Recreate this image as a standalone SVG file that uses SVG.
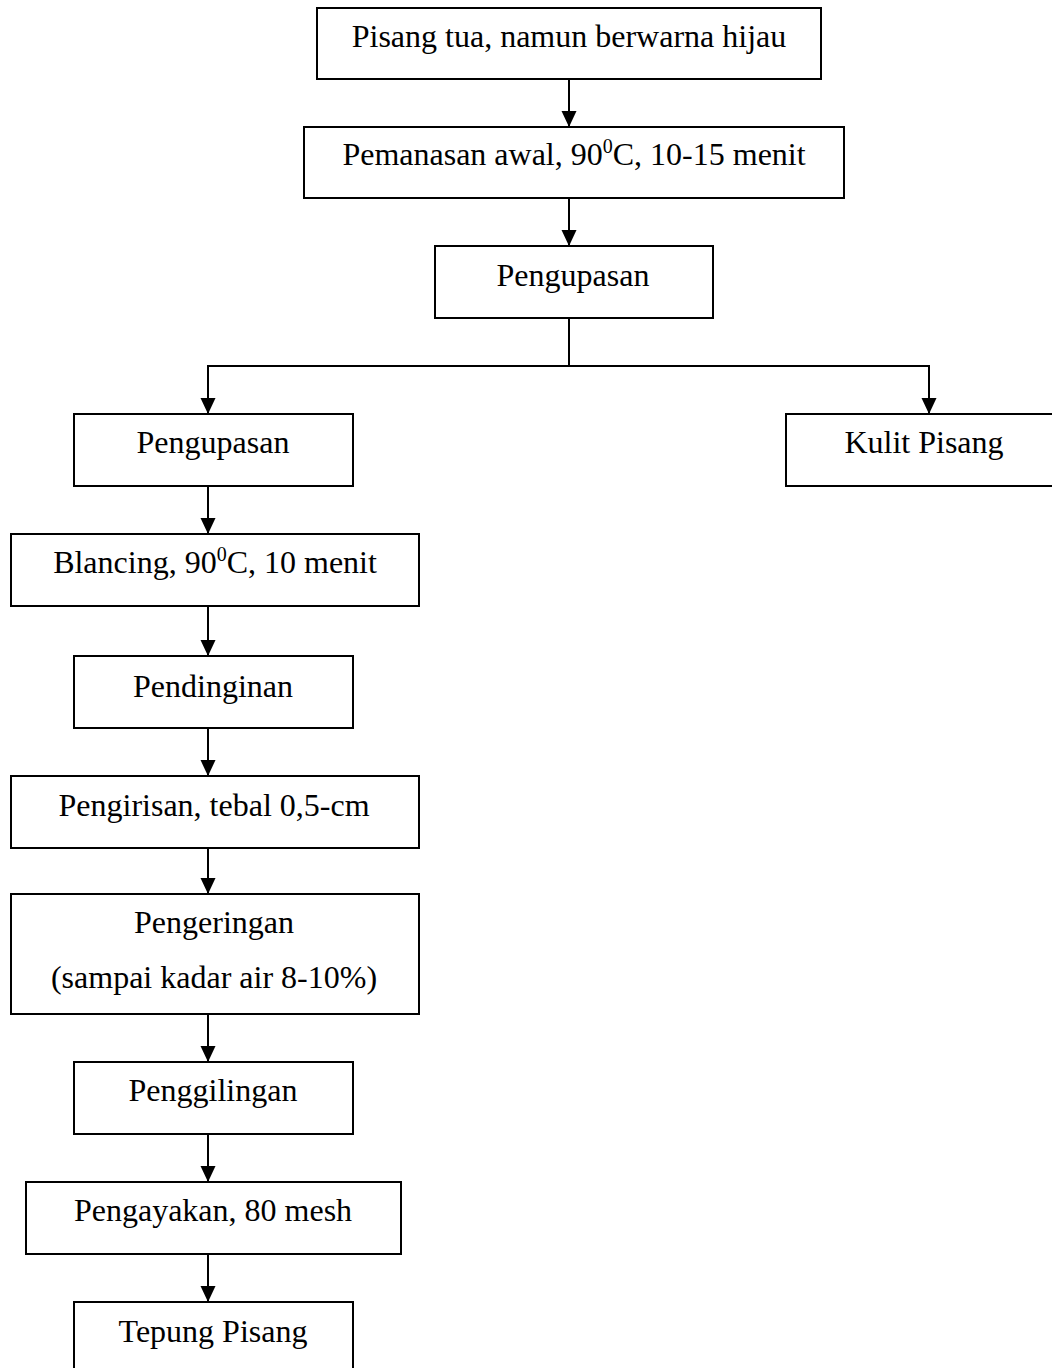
<svg xmlns="http://www.w3.org/2000/svg" width="1052" height="1368" viewBox="0 0 1052 1368">
<style>
.box{fill:#fff;stroke:#000;stroke-width:2}
.lbl{font-family:"Liberation Serif","Times New Roman",serif;font-size:32px;fill:#000;text-anchor:middle}
.sup{font-size:20px}
.con{fill:none;stroke:#000;stroke-width:2}
</style>
<defs>
<marker id="ah" viewBox="0 0 16 16" refX="16" refY="8" markerWidth="16" markerHeight="16" orient="auto" markerUnits="userSpaceOnUse">
<path d="M0,0.5 L16,8 L0,15.5 z" fill="#000"/>
</marker>
</defs>
<rect width="1052" height="1368" fill="#fff"/>
<g id="connectors">
<line class="con" x1="569" y1="79" x2="569" y2="127" marker-end="url(#ah)"/>
<line class="con" x1="569" y1="198" x2="569" y2="246" marker-end="url(#ah)"/>
<line class="con" x1="569" y1="318" x2="569" y2="366"/>
<line class="con" x1="207" y1="366" x2="930" y2="366"/>
<line class="con" x1="208" y1="366" x2="208" y2="414" marker-end="url(#ah)"/>
<line class="con" x1="929" y1="366" x2="929" y2="414" marker-end="url(#ah)"/>
<line class="con" x1="208" y1="486" x2="208" y2="534" marker-end="url(#ah)"/>
<line class="con" x1="208" y1="606" x2="208" y2="656" marker-end="url(#ah)"/>
<line class="con" x1="208" y1="728" x2="208" y2="776" marker-end="url(#ah)"/>
<line class="con" x1="208" y1="848" x2="208" y2="894" marker-end="url(#ah)"/>
<line class="con" x1="208" y1="1014" x2="208" y2="1062" marker-end="url(#ah)"/>
<line class="con" x1="208" y1="1134" x2="208" y2="1182" marker-end="url(#ah)"/>
<line class="con" x1="208" y1="1254" x2="208" y2="1302" marker-end="url(#ah)"/>
</g>
<g id="n1"><rect class="box" x="317" y="8" width="504" height="71"/><text class="lbl" x="569" y="47">Pisang tua, namun berwarna hijau</text></g>
<g id="n2"><rect class="box" x="304" y="127" width="540" height="71"/><text class="lbl" x="574" y="165">Pemanasan awal, 90<tspan class="sup" dy="-12">0</tspan><tspan dy="12">C, 10-15 menit</tspan></text></g>
<g id="n3"><rect class="box" x="435" y="246" width="278" height="72"/><text class="lbl" x="573" y="286">Pengupasan</text></g>
<g id="n4"><rect class="box" x="74" y="414" width="279" height="72"/><text class="lbl" x="213" y="453">Pengupasan</text></g>
<g id="n5"><rect class="box" x="786" y="414" width="276" height="72"/><text class="lbl" x="924" y="453">Kulit Pisang</text></g>
<g id="n6"><rect class="box" x="11" y="534" width="408" height="72"/><text class="lbl" x="215" y="573">Blancing, 90<tspan class="sup" dy="-12">0</tspan><tspan dy="12">C, 10 menit</tspan></text></g>
<g id="n7"><rect class="box" x="74" y="656" width="279" height="72"/><text class="lbl" x="213" y="697">Pendinginan</text></g>
<g id="n8"><rect class="box" x="11" y="776" width="408" height="72"/><text class="lbl" x="214" y="816">Pengirisan, tebal 0,5-cm</text></g>
<g id="n9"><rect class="box" x="11" y="894" width="408" height="120"/><text class="lbl" x="214" y="933">Pengeringan</text><text class="lbl" x="214" y="988">(sampai kadar air 8-10%)</text></g>
<g id="n10"><rect class="box" x="74" y="1062" width="279" height="72"/><text class="lbl" x="213" y="1101">Penggilingan</text></g>
<g id="n11"><rect class="box" x="26" y="1182" width="375" height="72"/><text class="lbl" x="213" y="1221">Pengayakan, 80 mesh</text></g>
<g id="n12"><rect class="box" x="74" y="1302" width="279" height="72"/><text class="lbl" x="213" y="1342">Tepung Pisang</text></g>
</svg>
